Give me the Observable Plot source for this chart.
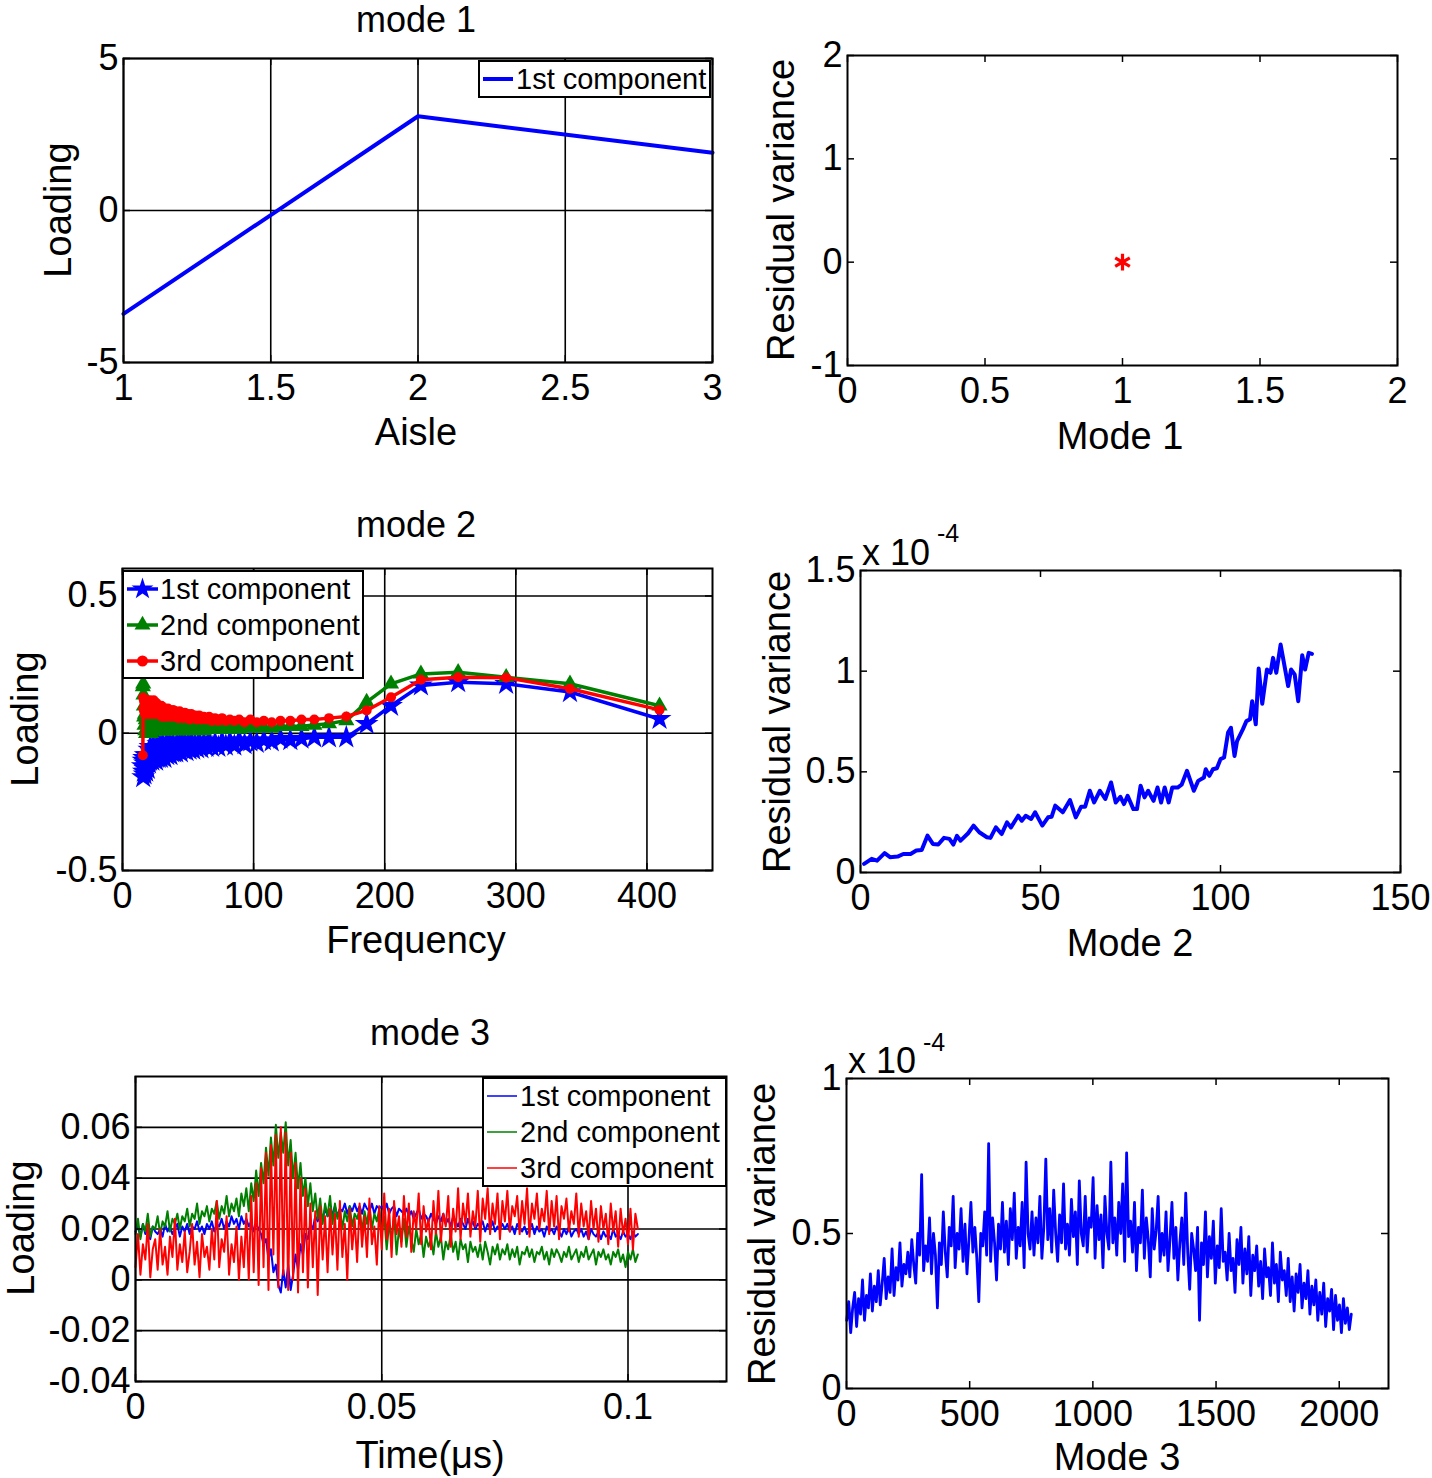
<!DOCTYPE html>
<html><head><meta charset="utf-8">
<script src="https://cdn.jsdelivr.net/npm/d3@7"></script>
<script src="https://cdn.jsdelivr.net/npm/@observablehq/plot@0.6"></script>
<style>
body{margin:0;background:#fff;}
#page{position:relative;width:1432px;height:1478px;overflow:hidden;font-family:"Liberation Sans",Arial,sans-serif;color:#000;background:#fff;}
.lbl{position:absolute;white-space:nowrap;line-height:1;}
.legend{position:absolute;background:#fff;border:2px solid #000;box-sizing:border-box;}
.legrow{position:absolute;left:0;height:36px;white-space:nowrap;font-size:29px;line-height:36px;}
.legrow svg{position:absolute;left:0;top:0;}
.legrow span{position:absolute;}
</style></head><body><div id="page"></div>
<script>
// ---------------- DATA ----------------
// Mode 1
const mode1Aisle = [1, 2, 3];
const mode1Loading = [-3.4, 3.1, 1.9];
const mode1ResidX = [1];
const mode1ResidY = [0];

// Mode 2 loadings
const mode2Freq = [15.5,15.8,16.0,16.3,16.5,16.8,17.1,17.4,17.7,18.0,18.3,18.6,19.0,19.3,19.7,20.1,20.5,20.9,21.3,21.8,
22.3,22.8,23.3,23.8,24.4,25.0,25.6,25.9,26.3,26.6,26.9,27.3,27.7,28.1,28.4,28.8,29.3,29.7,30.1,30.6,
31.0,31.5,32.0,32.5,33.0,33.6,34.1,34.7,35.3,35.9,36.6,37.2,37.9,38.6,39.4,40.2,41.0,41.8,42.7,43.6,
44.5,45.5,46.5,47.6,48.8,50.0,51.2,52.5,53.9,55.4,56.9,58.5,60.2,62.1,64.0,66.1,68.3,70.6,73.1,75.9,
78.8,81.9,85.3,89.0,93.1,97.5,102.4,107.8,113.8,120.5,128.0,136.5,146.3,157.5,170.7,186.2,204.8,227.6,256.0,292.6,
341.3,409.6];
const mode2Comp1 = [-0.12,-0.16,-0.10,-0.14,-0.09,-0.15,-0.11,-0.13,-0.08,-0.14,-0.10,-0.12,-0.08,-0.13,-0.09,
-0.11,-0.06,-0.10,-0.05,-0.09,-0.07,-0.10,-0.05,-0.09,-0.06,-0.08,-0.10,-0.05,-0.09,-0.06,-0.08,-0.04,-0.09,-0.06,-0.08,
-0.05,-0.09,-0.06,-0.08,-0.04,-0.08,-0.06,-0.09,-0.05,-0.07,-0.04,-0.08,-0.05,-0.07,-0.04,-0.08,-0.05,-0.07,-0.04,-0.07,
-0.05,-0.07,-0.04,-0.06,-0.04,-0.07,-0.04,-0.06,-0.035,-0.065,-0.04,-0.06,-0.03,-0.06,-0.04,-0.055,-0.03,-0.055,-0.035,-0.05,
-0.03,-0.05,-0.035,-0.05,-0.03,-0.045,-0.03,-0.045,-0.025,-0.04,-0.03,-0.035,-0.025,-0.03,-0.02,-0.025,-0.02,-0.015,-0.015,-0.015,
0.034,0.10,0.174,0.186,0.18,0.15,0.052];
const mode2Comp2 = [0.17,0.18,0.14,0.10,0.06,0.03,0.07,0.01,0.05,0.00,0.06,0.02,0.05,0.00,0.06,
0.01,0.05,0.02,0.06,0.00,0.04,0.02,0.05,0.01,0.04,0.02,0.06,0.01,0.04,0.02,0.05,0.01,0.04,0.02,0.05,
0.01,0.04,0.02,0.035,0.01,0.04,0.02,0.03,0.01,0.035,0.015,0.03,0.01,0.03,0.02,0.035,0.01,0.03,0.015,0.03,
0.015,0.03,0.01,0.025,0.015,0.03,0.01,0.025,0.015,0.025,0.01,0.02,0.015,0.025,0.01,0.02,0.015,0.025,0.01,0.02,
0.015,0.02,0.015,0.02,0.015,0.02,0.015,0.02,0.015,0.02,0.02,0.02,0.02,0.02,0.025,0.025,0.025,0.03,0.035,0.046,
0.113,0.18,0.216,0.222,0.204,0.18,0.10];
const mode2Comp3 = [-0.08,0.13,0.09,0.12,0.08,0.11,0.07,0.12,0.08,0.11,0.07,0.10,0.08,0.11,0.07,
0.10,0.07,0.12,0.08,0.11,0.07,0.10,0.08,0.12,0.07,0.10,0.08,0.11,0.07,0.09,0.08,0.10,0.07,0.09,0.08,
0.09,0.07,0.10,0.06,0.09,0.07,0.08,0.06,0.09,0.07,0.08,0.06,0.09,0.07,0.08,0.06,0.08,0.07,0.085,0.06,
0.08,0.06,0.075,0.055,0.08,0.06,0.07,0.055,0.075,0.06,0.07,0.05,0.07,0.055,0.065,0.05,0.065,0.05,0.06,0.05,
0.06,0.045,0.055,0.045,0.055,0.045,0.05,0.045,0.05,0.04,0.05,0.04,0.045,0.04,0.045,0.045,0.05,0.05,0.055,0.061,
0.083,0.131,0.195,0.204,0.202,0.162,0.085];

// Mode 2 residual variance (x 10^-4)
const mode2ResidX = [1,3.1,4.6,6.7,8.2,10.3,11.9,13.9,15.5,17,18.6,20.1,21.6,23.2,24.7,25.8,26.8,27.8,29.9,31.4,
33,35.1,36.1,37.6,39.2,40.7,41.8,43.8,44.8,45.9,47.4,48.5,50.5,52.1,53.1,54.1,56.2,58.2,59.8,61.3,
62.4,63.7,64.9,66.5,68,69.6,70.9,72.2,73.2,74.2,75.8,76.8,77.8,78.9,79.9,81.4,82.5,83.5,84.5,85.6,
86.6,88.1,89.2,90.7,92.6,93.8,95.4,95.9,96.9,97.9,99,100,101,102.1,102.9,103.9,104.6,106.2,107.2,108.2,
108.8,109.8,110.6,111.6,112.9,113.9,114.6,115.5,116.7,118.8,119.6,120.6,121.6,122.7,123.5,124.5,125.4];
const mode2ResidY = [0.043,0.068,0.059,0.096,0.076,0.079,0.092,0.092,0.109,0.112,0.183,0.142,0.139,0.172,0.167,0.139,0.182,0.158,0.195,0.233,
0.2,0.175,0.172,0.224,0.191,0.249,0.224,0.282,0.257,0.282,0.266,0.299,0.233,0.274,0.277,0.332,0.299,0.36,0.274,0.327,
0.327,0.406,0.348,0.406,0.365,0.447,0.348,0.376,0.34,0.381,0.315,0.315,0.431,0.373,0.406,0.356,0.422,0.348,0.422,0.348,
0.422,0.422,0.436,0.505,0.406,0.455,0.472,0.513,0.48,0.513,0.518,0.563,0.571,0.695,0.719,0.579,0.653,0.711,0.752,0.761,
0.851,0.736,1.013,0.838,1.008,0.992,1.066,0.992,1.132,0.926,1.008,0.984,0.851,1.079,1.008,1.091,1.086];

// Mode 3 loadings, sampled every 0.0005 µs
const mode3TimeStep = 0.0005;
const mode3Comp1 = [.019,.021,.017,.022,.018,.02,.016,.021,.019,.018,
.02,.017,.022,.019,.021,.018,.02,.022,.017,.021,
.019,.022,.018,.021,.02,.023,.019,.021,.018,.022,
.02,.023,.019,.022,.021,.024,.02,.023,.021,.025,
.022,.024,.02,.025,.022,.024,.021,.023,.019,.022,
.02,.018,.014,.016,.008,.012,.003,.006,-.002,-.005,
.004,-.003,.006,-.004,.002,.01,.004,.014,.01,.018,
.016,.022,.02,.025,.023,.027,.024,.028,.025,.027,
.026,.029,.025,.028,.027,.03,.026,.029,.027,.03,
.027,.029,.026,.03,.028,.027,.03,.026,.029,.028,
.029,.027,.03,.026,.028,.029,.025,.028,.027,.026,
.028,.025,.027,.024,.026,.028,.024,.026,.025,.023,
.026,.024,.022,.025,.023,.026,.022,.024,.021,.025,
.023,.021,.024,.022,.02,.024,.021,.023,.02,.022,
.021,.023,.019,.022,.02,.023,.019,.021,.02,.022,
.02,.022,.019,.021,.018,.022,.02,.019,.021,.018,
.02,.022,.018,.021,.019,.02,.017,.021,.019,.02,
.018,.021,.019,.017,.02,.018,.021,.017,.019,.02,
.018,.02,.017,.019,.016,.02,.018,.017,.019,.016,
.019,.017,.018,.016,.02,.017,.018,.016,.019,.017,
.018,.016,.019,.017,.018];
const mode3Comp2 = [.018,.024,.016,.022,.019,.026,.017,.021,.02,.025,
.018,.023,.021,.027,.019,.024,.022,.026,.02,.025,
.023,.028,.021,.026,.024,.03,.022,.027,.025,.029,
.023,.028,.026,.031,.024,.029,.026,.033,.025,.03,
.027,.032,.025,.034,.029,.036,.027,.038,.031,.043,
.033,.046,.038,.052,.041,.056,.045,.061,.048,.058,
.05,.062,.045,.055,.04,.05,.036,.046,.033,.04,
.029,.038,.027,.034,.024,.032,.022,.03,.025,.033,
.022,.03,.024,.028,.02,.027,.023,.029,.021,.026,
.024,.028,.019,.027,.022,.029,.02,.026,.023,.028,
.018,.025,.012,.022,.016,.026,.01,.02,.015,.024,
.013,.021,.016,.011,.02,.014,.018,.009,.017,.013,
.016,.01,.019,.013,.017,.008,.015,.012,.018,.011,
.015,.008,.016,.012,.014,.007,.015,.011,.013,.009,
.014,.008,.015,.011,.006,.013,.01,.014,.008,.012,
.01,.014,.008,.012,.009,.013,.006,.011,.01,.013,
.009,.012,.007,.011,.01,.013,.008,.011,.006,.012,
.009,.012,.01,.007,.011,.009,.013,.008,.01,.012,
.007,.011,.009,.013,.008,.01,.012,.006,.011,.009,
.012,.008,.01,.006,.011,.009,.012,.007,.01,.005,
.011,.008,.012,.007,.01];
const mode3Comp3 = [.005,.018,.002,.014,.008,.022,.001,.012,.016,.004,
.02,.006,.013,.002,.017,.009,.024,.004,.014,.007,
.019,.003,.011,.022,.006,.015,.001,.018,.009,.013,
.004,.02,.008,.031,.005,.016,.011,.025,.002,.014,
.007,.021,0,.017,.005,.026,0,.033,.003,.038,
-.002,.044,.005,.05,-.004,.053,.01,.057,-.003,.06,
.002,.058,-.004,.05,0,.046,-.005,.04,.003,.036,
-.003,.03,.005,.027,-.006,.029,.008,.025,.003,.028,
.01,.026,.004,.031,.009,.022,0,.028,.012,.024,
.007,.03,.013,.025,.009,.032,.014,.021,.006,.029,
.012,.034,.016,.028,.009,.031,.018,.025,.013,.033,
.017,.03,.011,.027,.02,.034,.014,.029,.019,.024,
.012,.031,.018,.035,.015,.026,.021,.033,.013,.028,
.019,.036,.016,.03,.022,.034,.017,.027,.021,.035,
.015,.032,.024,.036,.018,.03,.022,.034,.016,.031,
.023,.035,.019,.029,.025,.033,.018,.031,.022,.036,
.017,.03,.024,.034,.02,.028,.023,.035,.018,.031,
.021,.033,.016,.029,.024,.032,.019,.027,.022,.034,
.017,.03,.021,.027,.016,.031,.02,.028,.015,.029,
.02,.026,.014,.03,.019,.027,.013,.028,.018,.024,
.014,.028,.012,.026,.02];

// Mode 3 residual variance (x 10^-4), sampled every 8 indices starting at 1
const mode3IndexStep = 8;
const mode3Resid = [0.22,0.28,0.18,0.26,0.31,0.2,0.29,0.24,0.35,0.22,0.3,0.26,0.37,0.25,0.33,0.28,
0.38,0.27,0.34,0.42,0.29,0.36,0.31,0.45,0.3,0.39,0.35,0.47,0.33,0.4,0.37,0.44,
0.36,0.48,0.4,0.34,0.5,0.43,0.69,0.38,0.46,0.41,0.55,0.37,0.5,0.43,0.26,0.47,
0.4,0.57,0.44,0.36,0.52,0.46,0.62,0.39,0.5,0.45,0.58,0.41,0.53,0.37,0.48,0.6,
0.44,0.52,0.42,0.28,0.5,0.46,0.57,0.43,0.79,0.41,0.55,0.47,0.35,0.53,0.45,0.6,
0.44,0.54,0.4,0.58,0.48,0.63,0.42,0.52,0.46,0.6,0.39,0.73,0.5,0.45,0.57,0.43,
0.55,0.47,0.62,0.42,0.52,0.74,0.48,0.58,0.44,0.64,0.5,0.41,0.56,0.47,0.66,0.45,
0.53,0.43,0.61,0.49,0.57,0.4,0.67,0.5,0.46,0.62,0.44,0.55,0.52,0.68,0.42,0.59,
0.48,0.56,0.39,0.62,0.5,0.45,0.73,0.47,0.55,0.43,0.6,0.5,0.66,0.41,0.76,0.49,
0.54,0.44,0.6,0.38,0.52,0.47,0.64,0.42,0.55,0.48,0.36,0.58,0.45,0.51,0.62,0.41,
0.5,0.43,0.57,0.38,0.48,0.6,0.42,0.52,0.35,0.47,0.55,0.4,0.63,0.44,0.32,0.5,
0.45,0.38,0.52,0.22,0.47,0.4,0.57,0.36,0.49,0.42,0.54,0.34,0.46,0.39,0.58,0.41,
0.44,0.35,0.5,0.38,0.42,0.31,0.48,0.4,0.52,0.34,0.45,0.37,0.49,0.3,0.43,0.38,
0.46,0.33,0.41,0.29,0.45,0.36,0.39,0.3,0.47,0.34,0.4,0.28,0.44,0.35,0.38,0.3,
0.42,0.28,0.36,0.25,0.37,0.31,0.4,0.26,0.34,0.29,0.38,0.24,0.33,0.27,0.35,0.22,
0.31,0.24,0.34,0.2,0.29,0.25,0.32,0.19,0.3,0.22,0.27,0.18,0.29,0.21,0.26,0.19,
0.24];

// Tick labels
const p1XTicks = [1, 1.5, 2, 2.5, 3], p1YTicks = [-5, 0, 5];
const p2XTicks = [0, 0.5, 1, 1.5, 2], p2YTicks = [-1, 0, 1, 2];
const p3XTicks = [0, 100, 200, 300, 400], p3YTicks = [-0.5, 0, 0.5];
const p4XTicks = [0, 50, 100, 150], p4YTicks = [0, 0.5, 1, 1.5];
const p5XTicks = [0, 0.05, 0.1], p5YTicks = [-0.04, -0.02, 0, 0.02, 0.04, 0.06];
const p6XTicks = [0, 500, 1000, 1500, 2000], p6YTicks = [0, 0.5, 1];
const componentNames = ["1st component", "2nd component", "3rd component"];

// ---------------- DRAWING ----------------
const page = document.getElementById("page");
const BLUE = "#0000ff", GREEN = "#008000", RED = "#ff0000";
const FONT = "'Liberation Sans', Arial, sans-serif";
const fmt = d => String(d);

function panel(o) {
  const mL = 140, mR = 30, mT = 20, mB = 70;
  const fw = o.fx1 - o.fx0, fh = o.fy1 - o.fy0;
  const marks = [];
  if (o.gridX) marks.push(Plot.gridX(o.gridX, {stroke: "#000", strokeOpacity: 1, strokeWidth: 1.6}));
  if (o.gridY) marks.push(Plot.gridY(o.gridY, {stroke: "#000", strokeOpacity: 1, strokeWidth: 1.6}));
  marks.push(...o.marks);
  const tl = 7;
  marks.push(
    Plot.tickX(o.xTickMarks, {x: d => d, insetTop: fh - tl, stroke: "#000", strokeWidth: 1.5}),
    Plot.tickX(o.xTickMarks, {x: d => d, insetBottom: fh - tl, stroke: "#000", strokeWidth: 1.5}),
    Plot.tickY(o.yTickMarks, {y: d => d, insetRight: fw - tl, stroke: "#000", strokeWidth: 1.5}),
    Plot.tickY(o.yTickMarks, {y: d => d, insetLeft: fw - tl, stroke: "#000", strokeWidth: 1.5}),
    Plot.axisX(o.xTicks, {tickSize: 0, tickPadding: 12, tickFormat: fmt, label: null}),
    Plot.axisY(o.yTicks, {tickSize: 0, tickPadding: 5, tickFormat: fmt, label: null}),
    Plot.frame({stroke: "#000", strokeWidth: 2})
  );
  const svg = Plot.plot({
    width: fw + mL + mR, height: fh + mT + mB,
    marginLeft: mL, marginRight: mR, marginTop: mT, marginBottom: mB,
    style: {background: "transparent", fontSize: "36px", fontFamily: FONT, color: "#000", overflow: "visible", maxWidth: "none"},
    x: {domain: o.xDomain},
    y: {domain: o.yDomain},
    marks
  });
  svg.style.position = "absolute";
  svg.style.left = (o.fx0 - mL) + "px";
  svg.style.top = (o.fy0 - mT) + "px";
  page.appendChild(svg);
}

function label(text, cx, cy, size, rotate) {
  const d = document.createElement("div");
  d.className = "lbl";
  d.style.left = cx + "px";
  d.style.top = cy + "px";
  d.style.fontSize = size + "px";
  d.style.transform = "translate(-50%,-50%)" + (rotate ? " rotate(-90deg)" : "");
  d.textContent = text;
  page.appendChild(d);
}
function plainText(text, x, cy, size) {
  const d = document.createElement("div");
  d.className = "lbl";
  d.style.left = x + "px";
  d.style.top = cy + "px";
  d.style.fontSize = size + "px";
  d.style.transform = "translate(0,-50%)";
  d.textContent = text;
  page.appendChild(d);
}

function legend(box, rows) {
  const L = document.createElement("div");
  L.className = "legend";
  Object.assign(L.style, {left: box.x + "px", top: box.y + "px", width: box.w + "px", height: box.h + "px"});
  rows.forEach((r, i) => {
    const row = document.createElement("div");
    row.className = "legrow";
    row.style.top = (box.rowTop + i * 36 - box.y - 18 - 2) + "px";
    row.style.width = box.w + "px";
    let marker = "";
    const cx = (box.lineX0 + box.lineX1) / 2 - box.x - 2, cy = 18;
    if (r.marker === "star") {
      marker = `<path transform="translate(${cx},${cy})" d="${d3.symbol(d3.symbolStar, 150)()}" fill="${r.color}"/>`;
    } else if (r.marker === "triangle") {
      marker = `<path transform="translate(${cx},${cy})" d="${d3.symbol(d3.symbolTriangle, 110)()}" fill="${r.color}"/>`;
    } else if (r.marker === "circle") {
      marker = `<circle cx="${cx}" cy="${cy}" r="5.5" fill="${r.color}"/>`;
    }
    row.innerHTML = `<svg width="${box.w}" height="36"><line x1="${box.lineX0 - box.x - 2}" x2="${box.lineX1 - box.x - 2}" y1="18" y2="18" stroke="${r.color}" stroke-width="${box.lw}"/>${marker}</svg><span style="left:${box.textX - box.x - 2}px;top:0">${r.name}</span>`;
    L.appendChild(row);
  });
  page.appendChild(L);
}

// Panel 1: mode 1 loading
const p1Rows = mode1Aisle.map((a, i) => ({x: a, y: mode1Loading[i]}));
panel({
  fx0: 123, fx1: 712, fy0: 58, fy1: 362,
  xDomain: [1, 3], yDomain: [-5, 5],
  xTicks: p1XTicks, yTicks: p1YTicks, xTickMarks: p1XTicks, yTickMarks: p1YTicks,
  gridX: p1XTicks, gridY: p1YTicks,
  marks: [Plot.line(p1Rows, {x: "x", y: "y", stroke: BLUE, strokeWidth: 4})]
});
legend({x: 478, y: 60, w: 233, h: 38, rowTop: 79, lineX0: 483, lineX1: 513, textX: 516, lw: 4},
  [{name: componentNames[0], color: BLUE}]);
label("mode 1", 416, 20, 36);
label("Aisle", 416, 432, 38);
label("Loading", 58, 210, 38, true);

// Panel 2: residual variance mode 1
const p2Rows = mode1ResidX.map((m, i) => ({x: m, y: mode1ResidY[i]}));
panel({
  fx0: 847, fx1: 1397, fy0: 55, fy1: 365,
  xDomain: [0, 2], yDomain: [-1, 2],
  xTicks: p2XTicks, yTicks: p2YTicks, xTickMarks: p2XTicks, yTickMarks: p2YTicks,
  marks: [Plot.dot(p2Rows, {x: "x", y: "y", symbol: "asterisk", stroke: RED, strokeWidth: 3.2, r: 8})]
});
label("Residual variance", 781, 210, 38, true);
label("Mode 1", 1120, 436, 38);

// Panel 3: mode 2 loadings
const p3Series = [mode2Comp1, mode2Comp2, mode2Comp3];
const p3Colors = [BLUE, GREEN, RED];
const p3Symbols = ["star", "triangle", "circle"];
const p3Marks = [];
p3Series.forEach((vals, k) => {
  const rows = mode2Freq.map((f, i) => ({x: f, y: vals[i]})).filter(r => r.y !== undefined);
  p3Marks.push(Plot.line(rows, {x: "x", y: "y", stroke: p3Colors[k], strokeWidth: 3.5}));
  p3Marks.push(Plot.dot(rows, {x: "x", y: "y", symbol: p3Symbols[k], fill: p3Colors[k], r: k === 0 ? 7.5 : (k === 1 ? 6 : 5)}));
});
panel({
  fx0: 122, fx1: 712, fy0: 568, fy1: 870,
  xDomain: [0, 450], yDomain: [-0.5, 0.6],
  xTicks: p3XTicks, yTicks: p3YTicks, xTickMarks: p3XTicks, yTickMarks: p3YTicks,
  gridX: p3XTicks, gridY: p3YTicks,
  marks: p3Marks
});
legend({x: 122, y: 570, w: 242, h: 109, rowTop: 589, lineX0: 127, lineX1: 158, textX: 160, lw: 3.5},
  componentNames.map((n, k) => ({name: n, color: p3Colors[k], marker: p3Symbols[k]})));
label("mode 2", 416, 525, 36);
label("Frequency", 416, 940, 38);
label("Loading", 25, 719, 38, true);

// Panel 4: residual variance mode 2
const p4Rows = mode2ResidX.map((m, i) => ({x: m, y: mode2ResidY[i]}));
panel({
  fx0: 860, fx1: 1400, fy0: 570, fy1: 872,
  xDomain: [0, 150], yDomain: [0, 1.5],
  xTicks: p4XTicks, yTicks: p4YTicks, xTickMarks: p4XTicks, yTickMarks: p4YTicks,
  marks: [Plot.line(p4Rows, {x: "x", y: "y", stroke: BLUE, strokeWidth: 4, strokeLinejoin: "round"})]
});
plainText("x 10", 862, 553, 36);
plainText("-4", 937, 533, 25);
label("Residual variance", 777, 722, 38, true);
label("Mode 2", 1130, 943, 38);

// Panel 5: mode 3 loadings
const p5Series = [mode3Comp1, mode3Comp2, mode3Comp3];
const p5Marks = p5Series.map((vals, k) =>
  Plot.line(vals.map((v, i) => ({x: i * mode3TimeStep, y: v})), {x: "x", y: "y", stroke: p3Colors[k], strokeWidth: 2}));
panel({
  fx0: 135, fx1: 726, fy0: 1076, fy1: 1381,
  xDomain: [0, 0.12], yDomain: [-0.04, 0.08],
  xTicks: p5XTicks, yTicks: p5YTicks, xTickMarks: p5XTicks, yTickMarks: p5YTicks,
  gridX: p5XTicks, gridY: p5YTicks,
  marks: p5Marks
});
legend({x: 482, y: 1077, w: 245, h: 110, rowTop: 1096, lineX0: 487, lineX1: 517, textX: 520, lw: 1.5},
  componentNames.map((n, k) => ({name: n, color: p3Colors[k]})));
label("mode 3", 430, 1033, 36);
label("Time(μs)", 430, 1455, 38);
label("Loading", 21, 1228, 38, true);

// Panel 6: residual variance mode 3
const p6Rows = mode3Resid.map((v, i) => ({x: 1 + i * mode3IndexStep, y: v}));
panel({
  fx0: 846, fx1: 1388, fy0: 1078, fy1: 1388,
  xDomain: [0, 2200], yDomain: [0, 1],
  xTicks: p6XTicks, yTicks: p6YTicks, xTickMarks: p6XTicks, yTickMarks: p6YTicks,
  marks: [Plot.line(p6Rows, {x: "x", y: "y", stroke: BLUE, strokeWidth: 2.8})]
});
plainText("x 10", 848, 1061, 36);
plainText("-4", 923, 1042, 25);
label("Residual variance", 762, 1234, 38, true);
label("Mode 3", 1117, 1457, 38);
</script>
</body></html>
